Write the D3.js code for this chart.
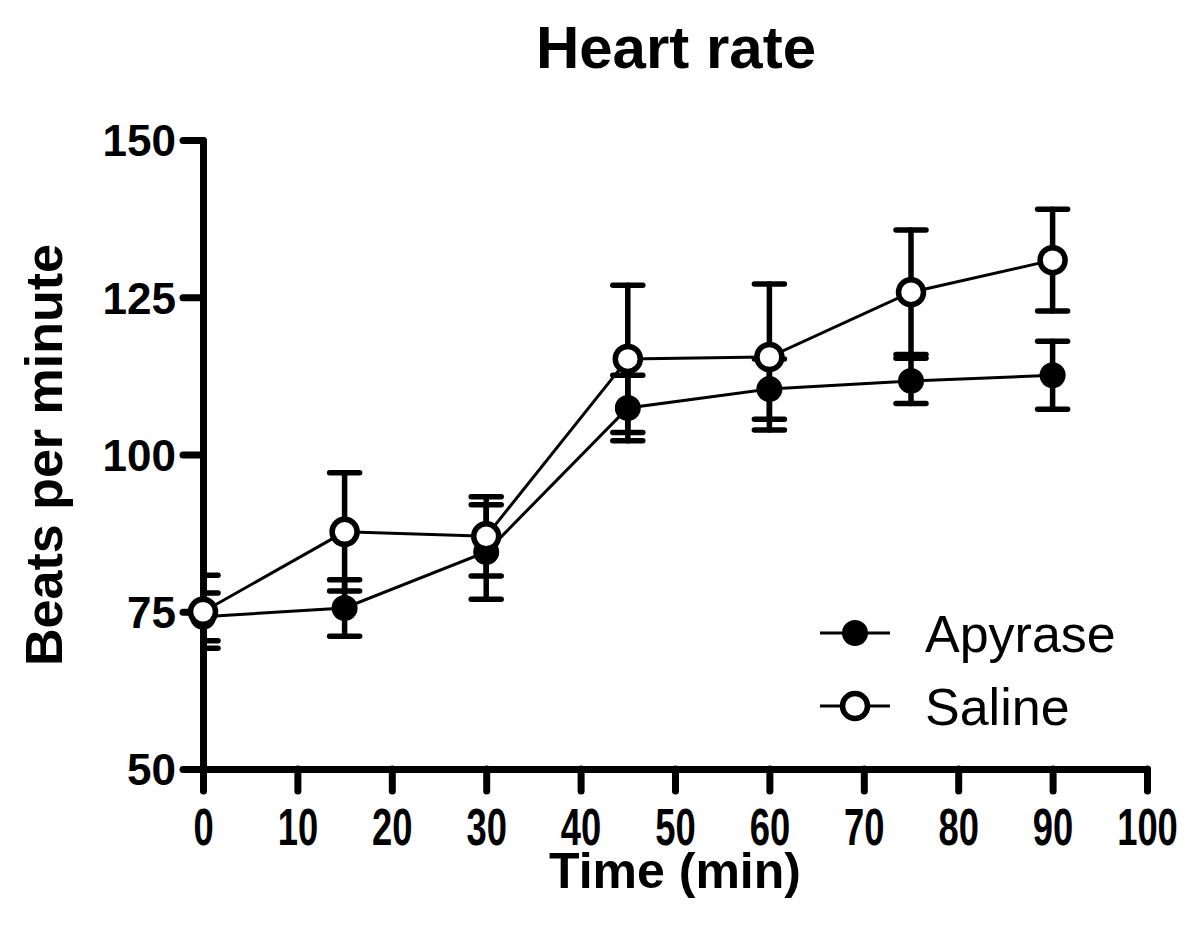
<!DOCTYPE html>
<html>
<head>
<meta charset="utf-8">
<script src="https://cdn.jsdelivr.net/npm/d3@7"></script>
<style>
  html, body { margin: 0; padding: 0; background: #fff; }
  svg { display: block; }
</style>
</head>
<body>
<svg id="chart" width="1200" height="942"></svg>
<script>
// ---- Data ----
const times = [0, 15, 30, 45, 60, 75, 90];
const apyraseMean = [74.2, 75.6, 84.5, 107.4, 110.4, 111.7, 112.6];
const apyraseSem  = [3.8, 4.5, 7.5, 5.2, 4.8, 3.6, 5.4];
const salineMean  = [75.0, 87.7, 87.0, 115.2, 115.5, 125.8, 130.9];
const salineSem   = [5.8, 9.4, 6.3, 11.7, 11.6, 9.9, 8.1];
const xTicks = [0, 10, 20, 30, 40, 50, 60, 70, 80, 90, 100];
const yTicks = [50, 75, 100, 125, 150];
const seriesNames = ["Apyrase", "Saline"];

// ---- Layout ----
const svg = d3.select("#chart");
const x = d3.scaleLinear().domain([0, 100]).range([203, 1147]);
const y = d3.scaleLinear().domain([50, 150]).range([769, 140]);

const series = [
  { name: seriesNames[0], mean: apyraseMean, sem: apyraseSem, filled: true },
  { name: seriesNames[1], mean: salineMean, sem: salineSem, filled: false }
];

// Title
svg.append("text")
  .attr("x", 676).attr("y", 68)
  .attr("text-anchor", "middle")
  .style("font-family", "'Liberation Sans', Arial, sans-serif")
  .style("font-weight", "bold").style("font-size", "60px")
  .text("Heart rate");

// Clip for error bars (they are clipped at the y axis)
svg.append("defs").append("clipPath").attr("id", "plotclip")
  .append("rect").attr("x", x(0)).attr("y", 0).attr("width", 1200).attr("height", 942);

// Axes
const axisW = 7;
const yAxis = svg.append("g").attr("transform", `translate(${x(0)},0)`)
  .call(d3.axisLeft(y).tickValues(yTicks).tickSize(20).tickSizeOuter(0).tickPadding(7));
yAxis.select(".domain").attr("stroke-width", axisW).attr("stroke-linecap", "round");
yAxis.selectAll(".tick line").attr("stroke-width", axisW).attr("stroke-linecap", "round");
yAxis.selectAll(".tick text")
  .style("font-family", "'Liberation Sans', Arial, sans-serif")
  .style("font-weight", "bold").style("font-size", "44px")
  .attr("dy", "0.36em");

const xAxis = svg.append("g").attr("transform", `translate(0,${y(50)})`)
  .call(d3.axisBottom(x).tickValues(xTicks).tickSize(22).tickSizeOuter(0).tickPadding(0));
xAxis.select(".domain").attr("stroke-width", axisW).attr("stroke-linecap", "round");
xAxis.selectAll(".tick line").attr("stroke-width", axisW).attr("stroke-linecap", "round");
xAxis.selectAll(".tick text")
  .style("font-family", "'Liberation Sans', Arial, sans-serif")
  .style("font-weight", "bold").style("font-size", "52px")
  .attr("y", 0).attr("dy", 0)
  .attr("transform", "translate(0,76) scale(0.7,1)");

svg.selectAll(".domain, .tick line").attr("stroke", "#000");
svg.selectAll(".tick text").attr("fill", "#000");

// Axis titles
svg.append("text")
  .attr("x", 675).attr("y", 888)
  .attr("text-anchor", "middle")
  .style("font-family", "'Liberation Sans', Arial, sans-serif")
  .style("font-weight", "bold").style("font-size", "50px")
  .text("Time (min)");

svg.append("text")
  .attr("transform", "translate(62,455) rotate(-90)")
  .attr("text-anchor", "middle")
  .style("font-family", "'Liberation Sans', Arial, sans-serif")
  .style("font-weight", "bold").style("font-size", "52px")
  .text("Beats per minute");

// Error bars
const capHalf = 15;
const ebG = svg.append("g").attr("clip-path", "url(#plotclip)");
series.forEach(s => {
  times.forEach((t, i) => {
    const cx = x(t), hi = y(s.mean[i] + s.sem[i]), lo = y(s.mean[i] - s.sem[i]);
    const g = ebG.append("g").attr("stroke", "#000").attr("stroke-width", 5.5)
      .attr("stroke-linecap", "round").attr("fill", "none");
    g.append("line").attr("x1", cx).attr("x2", cx).attr("y1", hi).attr("y2", lo);
    g.append("line").attr("x1", cx - capHalf).attr("x2", cx + capHalf).attr("y1", hi).attr("y2", hi);
    g.append("line").attr("x1", cx - capHalf).attr("x2", cx + capHalf).attr("y1", lo).attr("y2", lo);
  });
});

// Lines
const line = d3.line().x(d => x(d[0])).y(d => y(d[1]));
series.forEach(s => {
  svg.append("path")
    .datum(times.map((t, i) => [t, s.mean[i]]))
    .attr("d", line)
    .attr("fill", "none").attr("stroke", "#000").attr("stroke-width", 3);
});

// Points
series.forEach(s => {
  svg.append("g").selectAll("circle")
    .data(times.map((t, i) => [t, s.mean[i]]))
    .join("circle")
    .attr("cx", d => x(d[0])).attr("cy", d => y(d[1]))
    .attr("r", s.filled ? 13 : 12.5)
    .attr("fill", s.filled ? "#000" : "#fff")
    .attr("stroke", "#000").attr("stroke-width", s.filled ? 0 : 5.5);
});

// Legend
const legY = [633, 706];
series.forEach((s, i) => {
  const g = svg.append("g");
  g.append("line").attr("x1", 820).attr("x2", 890).attr("y1", legY[i]).attr("y2", legY[i])
    .attr("stroke", "#000").attr("stroke-width", 3);
  g.append("circle").attr("cx", 855).attr("cy", legY[i])
    .attr("r", s.filled ? 13 : 12.5)
    .attr("fill", s.filled ? "#000" : "#fff")
    .attr("stroke", "#000").attr("stroke-width", s.filled ? 0 : 5.5);
  g.append("text").attr("x", 925).attr("y", legY[i] + 19)
    .style("font-family", "'Liberation Sans', Arial, sans-serif")
    .style("font-size", "52px")
    .text(s.name);
});
</script>
</body>
</html>
